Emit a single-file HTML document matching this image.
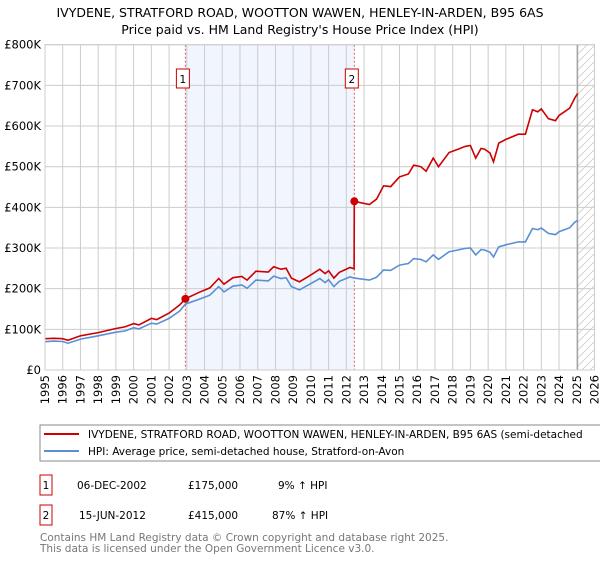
<!DOCTYPE html>
<html><head><meta charset="utf-8"><style>
body{margin:0;background:#fff;width:600px;height:560px;overflow:hidden;font-family:"DejaVu Sans","Liberation Sans",sans-serif;}
svg text{font-family:"DejaVu Sans","Liberation Sans",sans-serif;}
</style></head><body>
<svg id="chart" width="600" height="560" viewBox="0 0 600 560" xmlns="http://www.w3.org/2000/svg">
<text x="300" y="17" text-anchor="middle" font-size="12.5" fill="#000">IVYDENE, STRATFORD ROAD, WOOTTON WAWEN, HENLEY-IN-ARDEN, B95 6AS</text>
<text x="300" y="34" text-anchor="middle" font-size="12.5" fill="#000">Price paid vs. HM Land Registry's House Price Index (HPI)</text>
<g id="plot"></g>
<rect x="40" y="425" width="570" height="36" fill="#fff" stroke="#888"/>
<line x1="44" y1="434" x2="79" y2="434" stroke="#cc0000" stroke-width="2"/>
<text x="88" y="438" font-size="10.5">IVYDENE, STRATFORD ROAD, WOOTTON WAWEN, HENLEY-IN-ARDEN, B95 6AS (semi-detached</text>
<line x1="44" y1="451" x2="79" y2="451" stroke="#5b8fd4" stroke-width="2"/>
<text x="88" y="455" font-size="10.5">HPI: Average price, semi-detached house, Stratford-on-Avon</text>
<g font-size="10.5">
<rect x="40" y="475" width="12" height="20" fill="#fff" stroke="#cc0000"/>
<text x="46" y="489" text-anchor="middle">1</text>
<text x="77" y="489">06-DEC-2002</text>
<text x="188" y="489">£175,000</text>
<text x="278" y="489">9% ↑ HPI</text>
</g>
<g font-size="10.5">
<rect x="40" y="505" width="12" height="20" fill="#fff" stroke="#cc0000"/>
<text x="46" y="519" text-anchor="middle">2</text>
<text x="79" y="519">15-JUN-2012</text>
<text x="188" y="519">£415,000</text>
<text x="272" y="519">87% ↑ HPI</text>
</g>
<text x="40" y="541" font-size="10.5" fill="#777">Contains HM Land Registry data © Crown copyright and database right 2025.</text>
<text x="40" y="552" font-size="10.5" fill="#777">This data is licensed under the Open Government Licence v3.0.</text>
</svg>
<script>
const hpiYears=[1995.0,1995.5,1996.0,1996.3,1997.0,1998.0,1999.0,1999.5,2000.0,2000.3,2001.0,2001.3,2002.0,2002.6,2002.92,2003.7,2004.3,2004.8,2005.1,2005.6,2006.1,2006.4,2006.9,2007.6,2007.9,2008.3,2008.6,2008.9,2009.35,2009.9,2010.5,2010.8,2011.0,2011.3,2011.6,2012.2,2012.45,2013.3,2013.7,2014.1,2014.5,2015.0,2015.5,2015.8,2016.2,2016.5,2016.9,2017.2,2017.8,2018.3,2018.7,2019.0,2019.3,2019.6,2019.8,2020.1,2020.3,2020.6,2021.0,2021.7,2022.1,2022.5,2022.8,2023.0,2023.4,2023.8,2024.0,2024.3,2024.6,2024.9,2025.05];
const hpiValues=[69.6,71,70,66,76,84,93,96,104,101,115,113,127,145,162,174,184,205,192,206,209,201,221,219,231,225,227,205,197,210,225,215,222,205,218,229,226,221,228,246,245,258,262,274,272,266,283,272,291,295,299,300,283,296,295,290,278,303,308,315,315,348,345,349,336,333,340,345,350,364,368];
const redYears=[1995.0,1995.5,1996.0,1996.3,1997.0,1998.0,1999.0,1999.5,2000.0,2000.3,2001.0,2001.3,2002.0,2002.6,2002.92,2003.7,2004.3,2004.8,2005.1,2005.6,2006.1,2006.4,2006.9,2007.6,2007.9,2008.3,2008.6,2008.9,2009.35,2009.9,2010.5,2010.8,2011.0,2011.3,2011.6,2012.2,2012.44,2012.45,2013.3,2013.7,2014.1,2014.5,2015.0,2015.5,2015.8,2016.2,2016.5,2016.9,2017.2,2017.8,2018.3,2018.7,2019.0,2019.3,2019.6,2019.8,2020.1,2020.3,2020.6,2021.0,2021.7,2022.1,2022.5,2022.8,2023.0,2023.4,2023.8,2024.0,2024.3,2024.6,2024.9,2025.05];
const redValues=[77,78,77,73,84,92,102,106,114,111,127,124,140,160,175,191,202,225,211,227,230,221,243,241,254,248,250,226,217,231,248,237,244,226,240,252,249,415,407,420,453,451,475,482,504,500,489,521,500,535,543,550,552,521,545,543,534,512,558,567,580,580,640,635,642,618,613,626,635,644,670,680];
const saleYears=[2002.92,2012.45];
const saleValues=[175,415];
const saleLabels=["1","2"];
const yTicks=[0,100,200,300,400,500,600,700,800];
const yTickLabels=["£0","£100K","£200K","£300K","£400K","£500K","£600K","£700K","£800K"];
const xTicks=[1995,1996,1997,1998,1999,2000,2001,2002,2003,2004,2005,2006,2007,2008,2009,2010,2011,2012,2013,2014,2015,2016,2017,2018,2019,2020,2021,2022,2023,2024,2025,2026];

const NS="http://www.w3.org/2000/svg";
const L=45,R=594.5,T=44.7,B=370;
const xs=y=>L+(y-1995)/(2026-1995)*(R-L);
const ys=v=>B-v/800*(B-T);
const g=document.getElementById('plot');
function mk(tag,attrs,parent){const e=document.createElementNS(NS,tag);for(const k in attrs)e.setAttribute(k,attrs[k]);(parent||g).appendChild(e);return e;}
// shaded region between sales
const sh=mk('rect',{x:xs(saleYears[0]),y:T,width:xs(saleYears[1])-xs(saleYears[0]),height:B-T,fill:'#eef3fd',opacity:0.8});


// hatched future
const defs=mk('defs',{});
const pat=mk('pattern',{id:'hatch',width:8,height:8,patternUnits:'userSpaceOnUse'},defs);
mk('path',{d:'M0,8 L8,0',stroke:'#ccc','stroke-width':0.8},pat);
const ht=mk('rect',{x:xs(2025.05),y:T,width:R-xs(2025.05),height:B-T,fill:'url(#hatch)'});


// grid
yTicks.forEach((v,i)=>{
 const ln=mk('line',{x1:L,x2:R,y1:ys(v),y2:ys(v),stroke:'#ccc','stroke-width':1});
 
 
 const t=mk('text',{x:L-4,y:ys(v)+4,'text-anchor':'end','font-size':11.5});
 
 
 t.textContent=yTickLabels[i];
});
xTicks.forEach(y=>{
 const ln=mk('line',{x1:xs(y),x2:xs(y),y1:T,y2:B,stroke:'#ccc','stroke-width':1});
 
 
 const t=mk('text',{x:0,y:0,'text-anchor':'end','font-size':11.5,transform:`translate(${xs(y)+4},${B+5}) rotate(-90)`});
 
 
 t.textContent=y;
});
const vl=mk('line',{x1:xs(2025.05),x2:xs(2025.05),y1:T,y2:B,stroke:'#999','stroke-width':1});


// sale markers lines
saleYears.forEach((y,i)=>{
 const ln=mk('line',{x1:xs(y),x2:xs(y),y1:T,y2:B,stroke:'#e06060','stroke-width':1,'stroke-dasharray':'2,2'});
 
 
 const bx=mk('rect',{x:xs(y)-9,y:69,width:13,height:19,fill:'#fff',stroke:'#cc0000'});
 
 
 const t=mk('text',{x:xs(y)-2.5,y:83,'text-anchor':'middle','font-size':10.5});
 
 
 t.textContent=saleLabels[i];
});
function pts(xa,va){return xa.map((x,i)=>xs(x).toFixed(1)+','+ys(va[i]).toFixed(1)).join(' ');}
const hp=mk('polyline',{points:pts(hpiYears,hpiValues),fill:'none',stroke:'#5b8fd4','stroke-width':1.6});


const rp=mk('polyline',{points:pts(redYears,redValues),fill:'none',stroke:'#cc0000','stroke-width':1.6});


saleYears.forEach((y,i)=>{
 const c=mk('circle',{cx:xs(y),cy:ys(saleValues[i]),r:4,fill:'#cc0000'});
 
 
});
const fr=mk('rect',{x:L,y:T,width:R-L,height:B-T,fill:'none',stroke:'#ccc'});


</script>
</body></html>
